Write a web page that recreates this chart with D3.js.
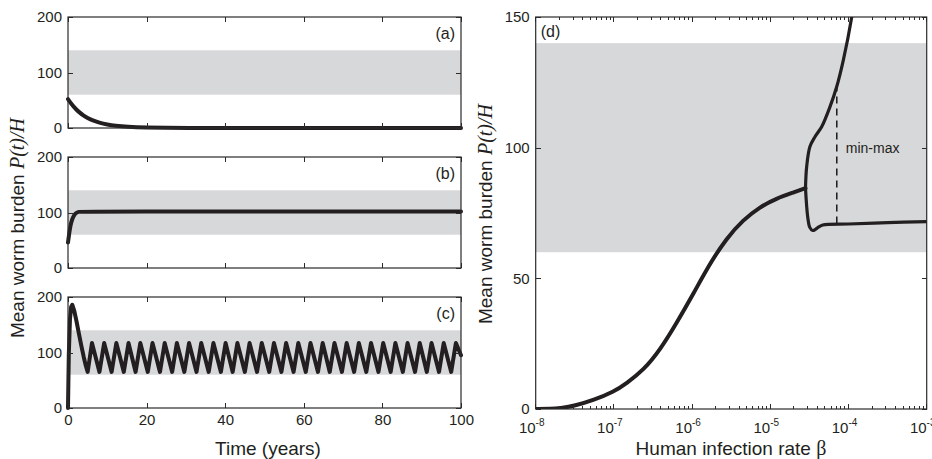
<!DOCTYPE html>
<meta charset="utf-8">
<style>
    body { margin: 0; background: #fff; }
    svg { display: block; font-family: "Liberation Sans", Arial, sans-serif; }
    .axis path { display: none; }
    .axis line { stroke: #2b2b2b; stroke-width: 1; shape-rendering: crispEdges; }
    .axis text { font-size: 15px; fill: #231f20; font-family: "Liberation Sans", Arial, sans-serif; }
    .frame { fill: none; stroke: #2b2b2b; stroke-width: 1.2; }
    .band { fill: #d7d8da; }
    .curve { fill: none; stroke: #231f20; stroke-linejoin: round; stroke-linecap: round; }
</style>
<body>
<script src="https://cdn.jsdelivr.net/npm/d3@7"></script>
<script>

// ---- data ----
var bandLow = 60, bandHigh = 140;

// (a) worms die out
var aTime  = [0, 1, 2, 3, 4, 5, 6, 8, 10, 12, 15, 20, 25, 30, 40, 60, 80, 100];
var aValue = [52, 42, 34, 27.5, 22, 18, 14.5, 9.5, 6.2, 4, 2.1, 0.8, 0.3, 0.1, 0, 0, 0, 0];

// (b) stable equilibrium
var bTime  = [0, 0.3, 0.6, 1, 1.5, 2, 2.6, 4, 100];
var bValue = [46, 62, 76, 87, 95, 99, 101.5, 102, 102];

// (c) sustained oscillations (troughs / peaks)
var cTime  = [0, 0.2, 0.5, 0.8, 1.1, 1.6, 2.2, 2.8, 3.4, 4.0, 4.5, 5.0,
    6.1, 8.0, 9.2, 11.1, 12.3, 14.2, 15.4, 17.2, 18.4, 20.3, 21.5, 23.4, 24.6, 26.5,
    27.7, 29.6, 30.8, 32.7, 33.9, 35.8, 37.0, 38.9, 40.1, 41.9, 43.1, 45.0, 46.2, 48.1,
    49.3, 51.2, 52.4, 54.3, 55.5, 57.4, 58.6, 60.5, 61.7, 63.6, 64.8, 66.6, 67.8, 69.7,
    70.9, 72.8, 74.0, 75.9, 77.1, 79.0, 80.2, 82.1, 83.3, 85.2, 86.4, 88.3, 89.5, 91.3,
    92.5, 94.4, 95.6, 97.5, 98.7, 100];
var cValue = [0, 95, 160, 182, 186, 175, 155, 133, 112, 92, 77, 65,
    117, 65, 117, 65, 117, 65, 117, 65, 117, 65, 117, 65, 117, 65,
    117, 65, 117, 65, 117, 65, 117, 65, 117, 65, 117, 65, 117, 65,
    117, 65, 117, 65, 117, 65, 117, 65, 117, 65, 117, 65, 117, 65,
    117, 65, 117, 65, 117, 65, 117, 65, 117, 65, 117, 65, 117, 65,
    117, 65, 117, 65, 117, 95];

var timeTicks = [0, 20, 40, 60, 80, 100];
var burdenTicks = [0, 100, 200];

// (d) bifurcation diagram against log10(beta)
var eqLogBeta = [-8, -7.8, -7.69, -7.5, -7.26, -7.0, -6.84, -6.62, -6.41, -6.2, -5.98,
    -5.77, -5.56, -5.35, -5.13, -4.92, -4.71, -4.55];
var eqValue   = [0, 0, 0.3, 1.2, 3.4, 6.6, 9.8, 14.9, 22.6, 32.8, 44.3,
    55.8, 65.3, 72.3, 77.4, 80.6, 82.8, 84.5];
var maxLogBeta = [-4.55, -4.535, -4.493, -4.428, -4.343, -4.236, -4.151, -4.066, -3.958, -3.93];
var maxValue   = [84.5, 92.7, 100.4, 104.2, 108.0, 115.7, 123.3, 133.5, 150.1, 156];
var minLogBeta = [-4.55, -4.522, -4.495, -4.458, -4.42, -4.394, -4.33, -4.0, -3.5, -3.0];
var minValue   = [84.5, 73.6, 69.5, 68.3, 68.8, 69.4, 70.4, 70.8, 71.3, 71.7];
var minMaxLogBeta = -4.15, minMaxLo = 71.0, minMaxHi = 123.3;
var betaExponents = [-8, -7, -6, -5, -4, -3];
var dTicks = [0, 50, 100, 150];

// ---- layout ----
var W = 932, H = 459;
var svg = d3.select("body").append("svg")
    .attr("width", W).attr("height", H);

var left = { x0: 68, x1: 461, h: 111, tops: [17, 157, 297] };

var xT = d3.scaleLinear().domain([0, 100]).range([left.x0, left.x1]);

var panels = [
    { t: aTime, v: aValue, label: "(a)", curve: d3.curveBasis },
    { t: bTime, v: bValue, label: "(b)", curve: d3.curveBasis },
    { t: cTime, v: cValue, label: "(c)", curve: d3.curveLinear }
];

panels.forEach(function (p, i) {
    var top = left.tops[i], bottom = top + left.h;
    var y = d3.scaleLinear().domain([0, 200]).range([bottom, top]);
    var g = svg.append("g");

    g.append("rect").attr("class", "band")
        .attr("x", left.x0).attr("width", left.x1 - left.x0)
        .attr("y", y(bandHigh)).attr("height", y(bandLow) - y(bandHigh));

    var line = d3.line()
        .x(function (d) { return xT(d[0]); })
        .y(function (d) { return y(d[1]); })
        .curve(p.curve);

    g.append("path").attr("class", "curve")
        .attr("stroke-width", 4)
        .attr("d", line(d3.zip(p.t, p.v)));

    g.append("g").attr("class", "axis")
        .attr("transform", "translate(0," + bottom + ")")
        .call(d3.axisBottom(xT).tickValues(timeTicks).tickSize(-5).tickSizeOuter(0)
            .tickPadding(6).tickFormat(i == 2 ? d3.format("d") : ""));
    g.append("g").attr("class", "axis")
        .attr("transform", "translate(0," + top + ")")
        .call(d3.axisTop(xT).tickValues(timeTicks).tickSize(-5).tickSizeOuter(0).tickFormat(""));
    g.append("g").attr("class", "axis")
        .attr("transform", "translate(" + left.x0 + ",0)")
        .call(d3.axisLeft(y).tickValues(burdenTicks).tickSize(-5).tickSizeOuter(0).tickPadding(6));
    g.append("g").attr("class", "axis")
        .attr("transform", "translate(" + left.x1 + ",0)")
        .call(d3.axisRight(y).tickValues(burdenTicks).tickSize(-5).tickSizeOuter(0).tickFormat(""));

    g.append("rect").attr("class", "frame")
        .attr("x", left.x0).attr("y", top)
        .attr("width", left.x1 - left.x0).attr("height", left.h);

    g.append("text")
        .attr("x", left.x1 - 6).attr("y", top + 22)
        .attr("text-anchor", "end")
        .attr("font-size", 16).attr("fill", "#231f20")
        .text(p.label);
});

svg.append("text")
    .attr("x", 268).attr("y", 455)
    .attr("text-anchor", "middle").attr("font-size", 19).attr("fill", "#231f20")
    .text("Time (years)");

function yLabel(x, y) {
    var t = svg.append("text")
        .attr("transform", "translate(" + x + "," + y + ") rotate(-90)")
        .attr("text-anchor", "middle")
        .attr("font-size", 19).attr("fill", "#231f20");
    t.append("tspan").text("Mean worm burden ");
    t.append("tspan").attr("font-family", "'Liberation Serif', 'Times New Roman', serif")
        .attr("font-style", "italic").attr("font-size", 20).text("P(t)/H");
}
yLabel(24, 228);

// ---- panel (d) ----
var R = { x0: 535.7, x1: 926.7, y0: 409, y1: 17 };
var xB = d3.scaleLog().domain([1e-8, 1e-3]).range([R.x0, R.x1]);
var yD = d3.scaleLinear().domain([0, 150]).range([R.y0, R.y1]);

svg.append("defs").append("clipPath").attr("id", "clipD")
    .append("rect").attr("x", R.x0).attr("y", R.y1)
    .attr("width", R.x1 - R.x0).attr("height", R.y0 - R.y1);

svg.append("rect").attr("class", "band")
    .attr("x", R.x0).attr("width", R.x1 - R.x0)
    .attr("y", yD(bandHigh)).attr("height", yD(bandLow) - yD(bandHigh));

var lineD = d3.line()
    .x(function (d) { return xB(Math.pow(10, d[0])); })
    .y(function (d) { return yD(d[1]); })
    .curve(d3.curveBasis);
var lineDv = d3.line()
    .x(function (d) { return xB(Math.pow(10, d[0])); })
    .y(function (d) { return yD(d[1]); })
    .curve(d3.curveCatmullRom);

var gd = svg.append("g").attr("clip-path", "url(#clipD)");
gd.append("path").attr("class", "curve").attr("stroke-width", 4)
    .attr("d", lineD(d3.zip(eqLogBeta, eqValue)));
gd.append("path").attr("class", "curve").attr("stroke-width", 3.2)
    .attr("d", lineDv(d3.zip(maxLogBeta, maxValue)));
gd.append("path").attr("class", "curve").attr("stroke-width", 3.2)
    .attr("d", lineDv(d3.zip(minLogBeta, minValue)));

gd.append("line")
    .attr("x1", xB(Math.pow(10, minMaxLogBeta))).attr("x2", xB(Math.pow(10, minMaxLogBeta)))
    .attr("y1", yD(minMaxLo)).attr("y2", yD(minMaxHi))
    .attr("stroke", "#231f20").attr("stroke-width", 1.6).attr("stroke-dasharray", "7,5");

svg.append("text")
    .attr("x", xB(Math.pow(10, minMaxLogBeta)) + 9).attr("y", yD(100) + 5)
    .attr("font-size", 14).attr("fill", "#231f20")
    .text("min-max");

// log axis: major + minor ticks
var majors = betaExponents.map(function (e) { return Math.pow(10, e); });
var minors = xB.ticks().filter(function (v) {
    return majors.every(function (m) { return Math.abs(v / m - 1) > 1e-6; });
});

[[R.y0, -1], [R.y1, 1]].forEach(function (s) {
    svg.append("g").attr("class", "axis").selectAll("line.maj")
        .data(majors).enter().append("line")
        .attr("x1", function (d) { return xB(d); }).attr("x2", function (d) { return xB(d); })
        .attr("y1", s[0]).attr("y2", s[0] + s[1] * 5);
    svg.append("g").attr("class", "axis").selectAll("line.min")
        .data(minors).enter().append("line")
        .attr("x1", function (d) { return xB(d); }).attr("x2", function (d) { return xB(d); })
        .attr("y1", s[0]).attr("y2", s[0] + s[1] * 3);
});

var xLab = svg.append("g").selectAll("text")
    .data(betaExponents).enter().append("text")
    .attr("x", function (d) { return xB(Math.pow(10, d)) - 4; })
    .attr("y", R.y0 + 24)
    .attr("text-anchor", "middle")
    .attr("font-size", 15).attr("fill", "#231f20");
xLab.append("tspan").text("10");
xLab.append("tspan").attr("font-size", 10).attr("dy", -7)
    .text(function (d) { return String(d); });

svg.append("g").attr("class", "axis")
    .attr("transform", "translate(" + R.x0 + ",0)")
    .call(d3.axisLeft(yD).tickValues(dTicks).tickSize(-5).tickSizeOuter(0).tickPadding(6));
svg.append("g").attr("class", "axis")
    .attr("transform", "translate(" + R.x1 + ",0)")
    .call(d3.axisRight(yD).tickValues(dTicks).tickSize(-5).tickSizeOuter(0).tickFormat(""));

svg.append("rect").attr("class", "frame")
    .attr("x", R.x0).attr("y", R.y1)
    .attr("width", R.x1 - R.x0).attr("height", R.y0 - R.y1);

svg.append("text")
    .attr("x", R.x0 + 5).attr("y", R.y1 + 20)
    .attr("font-size", 16).attr("fill", "#231f20")
    .text("(d)");

var hx = svg.append("text")
    .attr("x", 731).attr("y", 455)
    .attr("text-anchor", "middle").attr("font-size", 19).attr("fill", "#231f20");
hx.append("tspan").text("Human infection rate ");
hx.append("tspan").attr("font-family", "'Liberation Serif', 'Times New Roman', serif")
    .attr("font-size", 20).text("β");

yLabel(492, 214);

</script>
</body>
